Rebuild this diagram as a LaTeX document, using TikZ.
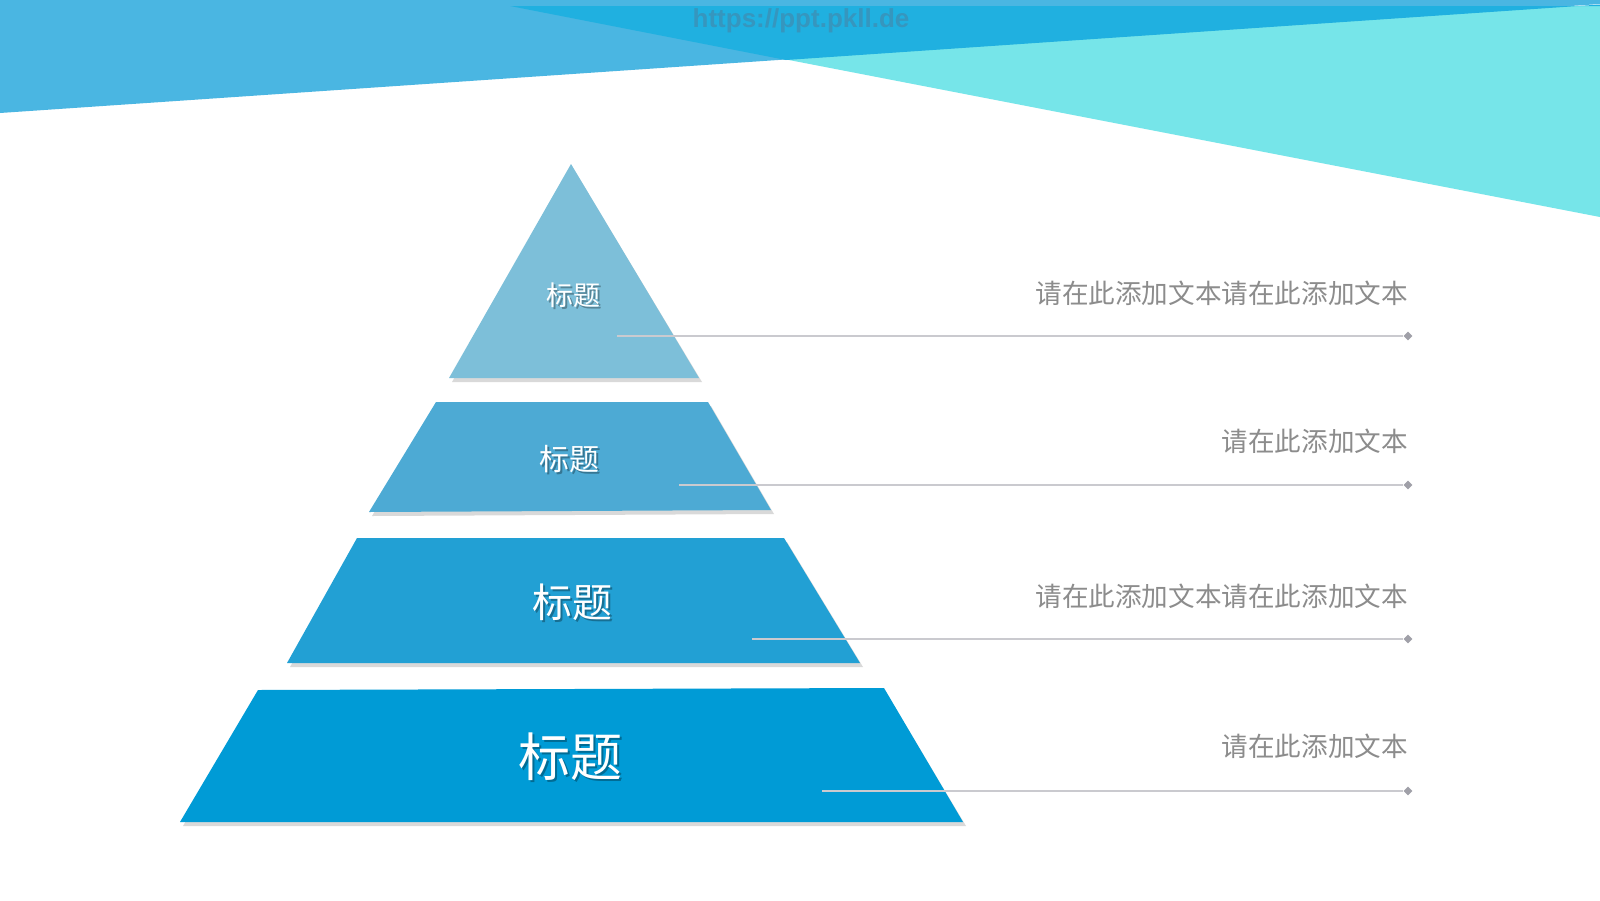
\documentclass[tikz,border=0pt]{standalone}
\usepackage{fontspec}
\setmainfont{Liberation Sans}
\newfontfamily\cjk{Noto Sans CJK SC}
\usetikzlibrary{shapes.geometric}
\definecolor{bandblue}{HTML}{4AB6E2}
\definecolor{darkband}{HTML}{20B0E0}
\definecolor{cyanband}{HTML}{76E5E9}
\definecolor{lvA}{HTML}{7DBFD9}
\definecolor{lvB}{HTML}{4DAAD4}
\definecolor{lvC}{HTML}{22A0D4}
\definecolor{lvD}{HTML}{009BD6}
\definecolor{txtgray}{HTML}{8C8C8C}
\definecolor{linegray}{HTML}{CACACF}
\definecolor{diamgray}{HTML}{A0A0A8}
\definecolor{wmark}{HTML}{3696BE}
\tikzset{
  shadowshape/.style={fill=black, opacity=0.15},
  conn/.style={draw=linegray, line width=1.1pt},
  diam/.style={diamond, fill=diamgray, inner sep=0pt, minimum size=9pt},
  desc/.style={font=\cjk\fontsize{26.6}{30}\selectfont, text=txtgray, anchor=east, inner sep=0pt},
  lbl/.style={text=white, inner sep=0pt},
  lblsh/.style={text=black, opacity=0.3, inner sep=0pt}
}
\begin{document}
\begin{tikzpicture}[x=1pt,y=-1pt]
\useasboundingbox (0,0) rectangle (1600,900);
\fill[white] (0,0) rectangle (1600,900);
% top banner
\fill[cyanband] (510,6) -- (1600,6) -- (1600,217) -- cycle;
\fill[bandblue] (0,0) -- (1600,0) -- (1600,4) -- (0,113) -- cycle;
\fill[darkband] (510,6) -- (1600,6) -- (1600,4.5) -- (786,60) -- cycle;
\node[text=wmark, font=\fontsize{26}{30}\selectfont\bfseries] (wm) at (801,21) {https://ppt.pkll.de};
% shadows
\fill[shadowshape] (573,168) -- (702,382) -- (452,382) -- cycle;
\fill[shadowshape] (439,406) -- (711,406) -- (774,514) -- (372,516) -- cycle;
\fill[shadowshape] (360,542) -- (787,542) -- (863,667) -- (290,667) -- cycle;
\fill[shadowshape] (261,694) -- (887,694) -- (966,826) -- (183,826) -- cycle;
% pyramid levels
\fill[lvA] (571,164) -- (699,378) -- (449,378) -- cycle;
\fill[lvB] (436,402) -- (708,402) -- (771,510) -- (369,512) -- cycle;
\fill[lvC] (357,538) -- (784,538) -- (860,663) -- (287,663) -- cycle;
\fill[lvD] (258,690) -- (884,688) -- (963,822) -- (180,822) -- cycle;
% connectors
\node[diam] (d1) at (1408,336) {};
\node[diam] (d2) at (1408,485) {};
\node[diam] (d3) at (1408,639) {};
\node[diam] (d4) at (1408,791) {};
\coordinate (s1) at (617,336);
\coordinate (s2) at (679,485);
\coordinate (s3) at (752,639);
\coordinate (s4) at (822,791);
\draw[conn] (s1) -- (d1);
\draw[conn] (s2) -- (d2);
\draw[conn] (s3) -- (d3);
\draw[conn] (s4) -- (d4);
% labels
\node[lblsh, font=\cjk\fontsize{27}{30}\selectfont] at (575,297) {标题};
\node[lbl, font=\cjk\fontsize{27}{30}\selectfont] (t1) at (573,295) {标题};
\node[lblsh, font=\cjk\fontsize{30}{34}\selectfont] at (571,461) {标题};
\node[lbl, font=\cjk\fontsize{30}{34}\selectfont] (t2) at (569,459) {标题};
\node[lblsh, font=\cjk\fontsize{40}{44}\selectfont] at (574,604) {标题};
\node[lbl, font=\cjk\fontsize{40}{44}\selectfont] (t3) at (572,602) {标题};
\node[lblsh, font=\cjk\fontsize{52}{56}\selectfont] at (572,759) {标题};
\node[lbl, font=\cjk\fontsize{52}{56}\selectfont] (t4) at (570,757) {标题};
% descriptions
\node[desc] (r1) at (1408,293) {请在此添加文本请在此添加文本};
\node[desc] (r2) at (1408,441) {请在此添加文本};
\node[desc] (r3) at (1408,596) {请在此添加文本请在此添加文本};
\node[desc] (r4) at (1408,746) {请在此添加文本};
\end{tikzpicture}
\end{document}
